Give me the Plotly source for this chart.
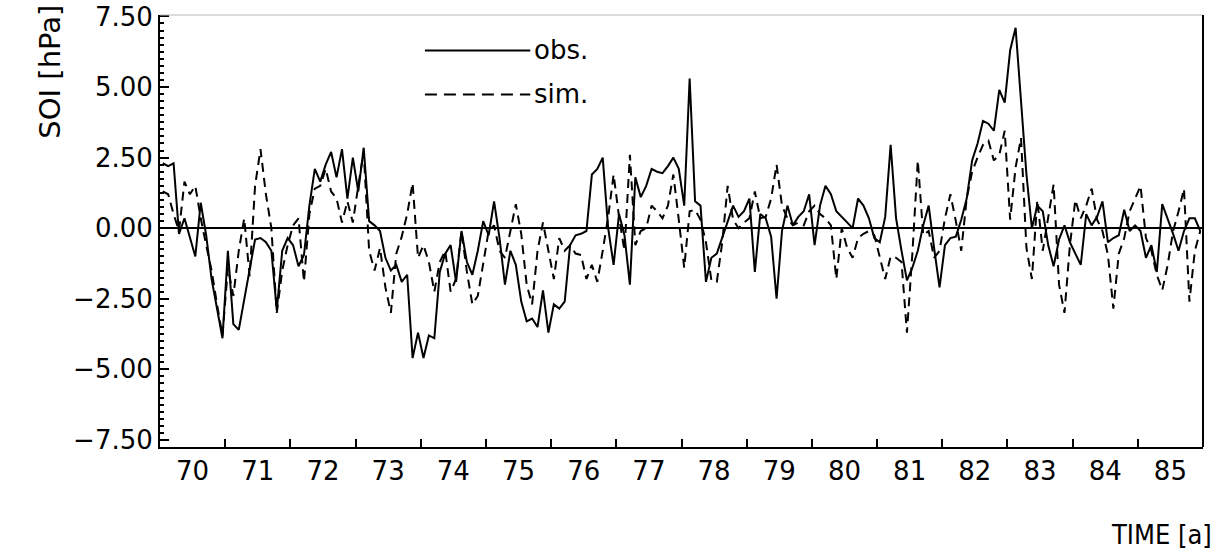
import plotly.graph_objects as go

# Monthly SOI anomalies, Jan 1970 - Dec 1985 (hPa)
obs_1970_77 = [
    2.3, 2.2, 2.3, -0.2, 0.35, -0.3, -1.0, 0.9, -0.25, -1.8, -2.9, -3.9,
    -0.8, -3.4, -3.6, -2.5, -1.5, -0.4, -0.35, -0.5, -0.8, -2.9, -0.8, -0.35,
    -0.6, -1.35, -0.95, 0.8, 2.1, 1.65, 2.25, 2.7, 1.8, 2.8, 1.05, 2.5,
    1.3, 2.85, 0.25, 0.1, -0.1, -1.05, -1.5, -1.3, -1.9, -1.65, -4.6, -3.7,
    -4.6, -3.8, -3.9, -1.55, -0.9, -0.6, -1.9, -0.1, -1.2, -1.65, -0.8, 0.25,
    -0.25, 0.95, -0.35, -2.0, -0.8, -1.3, -2.6, -3.3, -3.2, -3.5, -2.2, -3.7,
    -2.7, -2.85, -2.6, -0.6, -0.25, -0.2, -0.1, 1.9, 2.1, 2.5, 0.0, -1.3,
    0.5, -0.25, -2.0, 1.8, 1.1, 1.5, 2.1, 2.0, 1.95, 2.2, 2.5, 2.1,
]
obs_1978_85 = [
    0.8, 5.3, 0.95, 0.8, -1.9, -1.05, -0.9, -0.35, 0.25, 0.8, 0.4, 0.6,
    1.05, -1.55, 0.5, 0.35, -0.3, -2.5, -0.1, 0.8, 0.1, 0.4, 0.6, 1.2,
    -0.6, 0.8, 1.5, 1.2, 0.6, 0.4, 0.2, 0.0, 1.05, 0.8, 0.35, -0.35,
    -0.5, 0.4, 2.95, 0.35, -0.8, -1.85, -1.4, -0.8, 0.1, 0.8, -0.7, -2.1,
    -0.6, -0.35, -0.3, 0.3, 1.05, 2.4, 3.0, 3.8, 3.7, 3.45, 4.9, 4.45,
    6.3, 7.1, 4.5, 1.9, 0.0, 0.8, 0.6, -0.6, -1.35, -0.4, 0.1, -0.5,
    -0.9, -1.3, 0.5, 0.1, 0.4, 0.95, -0.5, -0.35, -0.25, 0.65, -0.1, 0.1,
    -0.1, -1.05, -0.6, -1.55, 0.85, 0.35, -0.2, -0.8, -0.1, 0.35, 0.35, -0.1,
]
sim_1970_77 = [
    1.3, 1.2, 0.5, -0.1, 1.65, 1.2, 1.5, 0.35, -0.6, -1.5, -2.7, -3.8,
    -1.4, -2.4, -0.8, 0.35, -1.7, 1.5, 2.8, 1.2, 0.0, -3.0, -1.5, -0.6,
    0.1, 0.35, -1.9, 0.5, 1.4, 1.5, 2.1, 1.3, 1.05, 0.2, 0.95, 0.2,
    1.5, 2.7, -0.8, -1.5, -0.7, -2.1, -3.0, -0.9, -0.3, 0.5, 1.6, -1.05,
    -0.6, -1.2, -2.25, -1.2, -0.8, -2.25, -1.8, -0.1, -1.55, -2.7, -2.4, -1.2,
    -0.1, 0.1, -0.8, -1.05, -0.1, 0.85, -0.2, -2.0, -2.7, -0.8, 0.2, -0.8,
    -1.8, -0.35, -0.8, -0.6, -0.9, -0.95, -1.8, -1.3, -1.9, -0.8, 0.4, 1.9,
    0.4, -0.8, 2.6, -0.6, -0.1, 0.0, 0.8, 0.6, 0.35, 0.8, 1.9, 0.3,
]
sim_1978_85 = [
    -1.4, 0.6, 0.65, 0.3, -0.5, -1.85, -1.9, -0.5, 1.5, 0.3, 0.0, 0.2,
    0.35, 1.3, 0.35, 0.4, 1.05, 2.25, 0.8, 0.35, 0.1, 0.2, 0.1, 0.6,
    0.8, 0.5, 0.35, 0.1, -1.8, 0.0, -0.7, -1.05, -0.35, -0.2, -0.1, -0.25,
    -1.05, -1.8, -1.0, -1.05, -1.2, -3.7, -0.9, 2.4, -0.25, -0.1, -1.05, -0.8,
    0.35, 1.2, 0.25, -0.8, 1.05, 2.0, 2.5, 2.95, 3.1, 2.4, 2.6, 3.45,
    0.3, 2.15, 3.2, -0.7, -1.8, 1.0, -0.8, 0.4, 1.55, -2.0, -3.0, -0.6,
    1.0, 0.35, 0.8, 1.4, 0.3, -0.1, -0.95, -2.85, -0.9, -0.35, 0.6, 1.05,
    1.5, -0.35, -0.8, -1.65, -2.2, -1.3, -0.1, 0.6, 1.4, -2.6, -0.8, -0.1,
]
obs = obs_1970_77 + obs_1978_85
sim = sim_1970_77 + sim_1978_85

years = list(range(1970, 1986))
year_labels = [str(y % 100) for y in years]
y_ticks = [-7.5, -5.0, -2.5, 0.0, 2.5, 5.0, 7.5]
y_ticktext = [f"{v:.2f}".replace("-", "\u2212") for v in y_ticks]

# monthly samples placed at mid-month
time = [years[0] + (i + 0.5) / 12 for i in range(len(obs))]

FONT = "DejaVu Sans"

fig = go.Figure()
fig.add_trace(go.Scatter(x=time, y=obs, mode="lines", name="obs.",
                         line=dict(color="black", width=2), showlegend=False))
fig.add_trace(go.Scatter(x=time, y=sim, mode="lines", name="sim.",
                         line=dict(color="black", width=2, dash="9px,6px"),
                         showlegend=False))

fig.update_layout(
    width=1224, height=555,
    margin=dict(l=160, r=21, t=15, b=108),
    paper_bgcolor="white", plot_bgcolor="white",
    font=dict(family=FONT, color="black", size=26),
    xaxis=dict(
        range=[1970, 1986], showgrid=False, zeroline=False, automargin=False,
        showline=True, linecolor="black", linewidth=2,
        tickvals=[y + 0.5 for y in years], ticktext=year_labels,
        ticks="", tickfont=dict(size=26),
        minor=dict(tickvals=years[1:], ticks="inside", ticklen=8,
                   tickwidth=2, tickcolor="black", showgrid=False),
    ),
    yaxis=dict(
        range=[-7.75, 7.55], showgrid=False, automargin=False,
        zeroline=True, zerolinecolor="black", zerolinewidth=2,
        showline=True, linecolor="black", linewidth=2,
        tickvals=y_ticks, ticktext=y_ticktext,
        ticks="inside", ticklen=9, tickwidth=2, tickcolor="black",
        tickfont=dict(size=26),
        minor=dict(dtick=0.25, ticks="inside", ticklen=4, tickwidth=1.5,
                   tickcolor="black", showgrid=False),
    ),
    shapes=[
        # frame: faint top edge, heavy right edge
        dict(type="line", xref="paper", yref="paper", x0=0, x1=1, y0=1, y1=1,
             line=dict(color="#b8b8b8", width=1)),
        dict(type="line", xref="paper", yref="paper", x0=1, x1=1, y0=0, y1=1,
             line=dict(color="black", width=2)),
        # legend keys
        dict(type="line", xref="paper", yref="paper", x0=0.254, x1=0.355,
             y0=0.918, y1=0.918, line=dict(color="black", width=2)),
        dict(type="line", xref="paper", yref="paper", x0=0.254, x1=0.355,
             y0=0.816, y1=0.816, line=dict(color="black", width=2, dash="12px,7px")),
    ],
    annotations=[
        dict(text="obs.", xref="paper", yref="paper", x=0.357, y=0.918,
             xanchor="left", yanchor="middle", showarrow=False, font=dict(size=26)),
        dict(text="sim.", xref="paper", yref="paper", x=0.357, y=0.816,
             xanchor="left", yanchor="middle", showarrow=False, font=dict(size=26)),
        dict(text="SOI [hPa]", xref="paper", yref="paper", x=-0.105, y=0.87,
             xanchor="center", yanchor="middle", textangle=-90, showarrow=False,
             font=dict(size=29)),
        dict(text="TIME [a]", xref="paper", yref="paper", x=0.96, y=-0.203,
             xanchor="center", yanchor="middle", showarrow=False,
             font=dict(size=27, family="DejaVu Sans Condensed")),
    ],
)

fig.write_html("out.html")
